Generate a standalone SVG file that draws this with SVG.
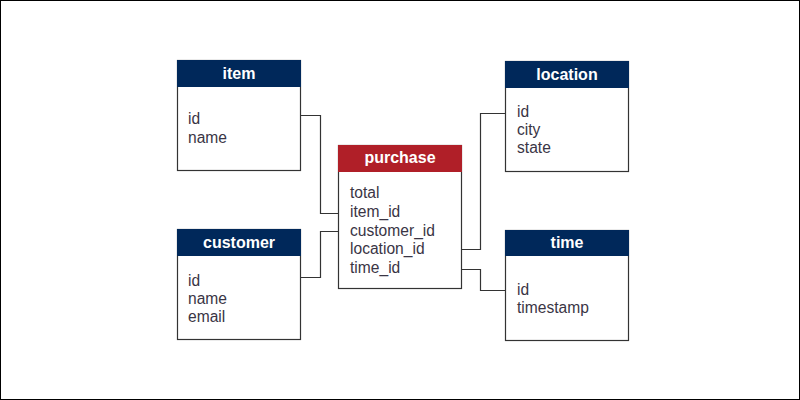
<svg xmlns="http://www.w3.org/2000/svg" width="800" height="400" viewBox="0 0 800 400">
<style>
.body{fill:#fff;stroke:#333;stroke-width:1.2}
.hd{fill:#00285a}
.hdr{fill:#b01f28}
.ht{font-family:"Liberation Sans",Arial,sans-serif;font-size:16px;font-weight:bold;fill:#fff;text-anchor:middle}
.t{font-family:"Liberation Sans",Arial,sans-serif;font-size:15.6px;fill:#3a3545}
.c{fill:none;stroke:#333;stroke-width:1.2}
</style>
<rect x="0.5" y="0.5" width="799" height="399" fill="#fff" stroke="#000"/>
<g id="connectors">
<polyline class="c" points="300,115.5 320.5,115.5 320.5,213.5 338,213.5"/>
<polyline class="c" points="300,277.5 320.5,277.5 320.5,231.5 338,231.5"/>
<polyline class="c" points="462,249.5 480.5,249.5 480.5,113.5 505,113.5"/>
<polyline class="c" points="462,269.5 480.5,269.5 480.5,290.5 505,290.5"/>
</g>
<g id="item">
<rect class="body" x="177.5" y="60.5" width="123" height="110"/>
<rect class="hd" x="177" y="60" width="124" height="27"/>
<text class="ht" x="239" y="79">item</text>
<text class="t" x="188" y="124">id</text>
<text class="t" x="188" y="143">name</text>
</g>
<g id="purchase">
<rect class="body" x="338.5" y="145.5" width="123" height="143"/>
<rect class="hdr" x="338" y="145" width="124" height="27"/>
<text class="ht" x="400" y="163">purchase</text>
<text class="t" x="350" y="198">total</text>
<text class="t" x="350" y="217">item_id</text>
<text class="t" x="350" y="236">customer_id</text>
<text class="t" x="350" y="254">location_id</text>
<text class="t" x="350" y="273">time_id</text>
</g>
<g id="location">
<rect class="body" x="505.5" y="61.5" width="123" height="110"/>
<rect class="hd" x="505" y="61" width="124" height="27"/>
<text class="ht" x="567" y="80">location</text>
<text class="t" x="517" y="117">id</text>
<text class="t" x="517" y="135">city</text>
<text class="t" x="517" y="153">state</text>
</g>
<g id="customer">
<rect class="body" x="177.5" y="229.5" width="123" height="110"/>
<rect class="hd" x="177" y="229" width="124" height="27"/>
<text class="ht" x="239" y="248">customer</text>
<text class="t" x="188" y="286">id</text>
<text class="t" x="188" y="304">name</text>
<text class="t" x="188" y="322">email</text>
</g>
<g id="time">
<rect class="body" x="505.5" y="230.5" width="123" height="110"/>
<rect class="hd" x="505" y="230" width="124" height="26"/>
<text class="ht" x="567" y="248">time</text>
<text class="t" x="517" y="295">id</text>
<text class="t" x="517" y="313">timestamp</text>
</g>
</svg>
